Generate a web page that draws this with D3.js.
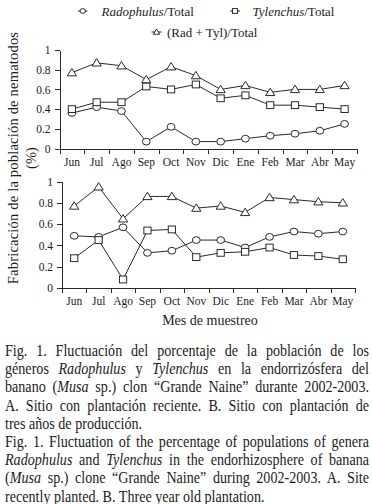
<!DOCTYPE html>
<html>
<head>
<meta charset="utf-8">
<script src="https://cdn.jsdelivr.net/npm/d3@7"></script>
<style>
  body { margin: 0; background: #fff; }
  svg { display: block; }
</style>
</head>
<body>
<svg id="fig" width="372" height="504"></svg>
<script>
// months on the x axis
const months = ['Jun', 'Jul', 'Ago', 'Sep', 'Oct', 'Nov', 'Dic', 'Ene', 'Feb', 'Mar', 'Abr', 'May'];
const yTicks = [0, 0.2, 0.4, 0.6, 0.8, 1];
const yTickLabels = ['0', '0.2', '0.4', '0.6', '0.8', '1'];

// A: recent plantation (top)
const radA = [0.36, 0.42, 0.38, 0.07, 0.22, 0.07, 0.07, 0.10, 0.13, 0.15, 0.18, 0.25];
const tylA = [0.40, 0.47, 0.47, 0.63, 0.60, 0.65, 0.51, 0.54, 0.44, 0.44, 0.42, 0.40];
const sumA = [0.77, 0.87, 0.84, 0.70, 0.83, 0.74, 0.60, 0.64, 0.57, 0.60, 0.60, 0.64];
// B: three year old plantation (bottom)
const radB = [0.49, 0.48, 0.57, 0.33, 0.35, 0.45, 0.45, 0.38, 0.48, 0.53, 0.51, 0.53];
const tylB = [0.28, 0.45, 0.08, 0.54, 0.55, 0.29, 0.33, 0.34, 0.38, 0.31, 0.30, 0.27];
const sumB = [0.77, 0.95, 0.65, 0.86, 0.86, 0.75, 0.77, 0.71, 0.85, 0.83, 0.81, 0.80];

const legendLabels = [['Radophulus', '/Total'], ['Tylenchus', '/Total'], ['', '(Rad + Tyl)/Total']];

const SERIF = '"Liberation Serif"';
const INK = '#2a2a2a';
const TXT = '#1c1c1c';
const svg = d3.select('#fig');

// marker drawers
function marker(sel, kind, s) {
  if (kind === 'circle') {
    sel.append('ellipse').attr('rx', 3.9 * s).attr('ry', 3.4 * s);
  } else if (kind === 'square') {
    sel.append('rect').attr('x', -3.6 * s).attr('y', -3.4 * s).attr('width', 7.2 * s).attr('height', 6.8 * s);
  } else {
    sel.append('path').attr('d', `M0,${-4.2 * s}L${4.6 * s},${3.2 * s}L${-4.6 * s},${3.2 * s}Z`);
  }
  sel.selectAll('ellipse,rect,path').attr('fill', '#fff').attr('stroke', INK).attr('stroke-width', 1);
}

function drawPanel(p) {
  const x = d3.scaleBand().domain(months).range([p.x0, p.x1]);
  const xb = d3.scaleLinear().domain([0, 12]).range([p.x0, p.x1]);
  const y = d3.scaleLinear().domain([0, 1]).range([p.yb, p.yt]);
  const g = svg.append('g');

  g.append('g').attr('transform', `translate(${p.x0},0)`)
    .call(d3.axisLeft(y).tickValues(yTicks).tickFormat((d, i) => yTickLabels[i]).tickSize(5).tickSizeOuter(0).tickPadding(4));
  g.append('g').attr('transform', `translate(0,${p.yb})`)
    .call(d3.axisBottom(xb).tickValues(d3.range(13)).tickFormat('').tickSize(5).tickSizeOuter(0));
  g.append('g').attr('transform', `translate(0,${p.yb})`)
    .call(d3.axisBottom(x).tickSize(0).tickPadding(9))
    .call(a => a.select('.domain').remove());
  g.selectAll('.domain, .tick line').attr('stroke', INK).attr('shape-rendering', 'crispEdges');
  g.selectAll('.tick text').attr('fill', TXT).style('font-size', '11.5px');

  const line = d3.line().x((d, i) => x(months[i]) + x.bandwidth() / 2).y(d => y(d));
  p.series.forEach(s => {
    g.append('path').datum(s.values).attr('d', line).attr('fill', 'none').attr('stroke', INK).attr('stroke-width', 1);
  });
  p.series.forEach(s => {
    g.append('g').selectAll('g').data(s.values).join('g')
      .attr('transform', (d, i) => `translate(${x(months[i]) + x.bandwidth() / 2},${y(d)})`)
      .each(function () { marker(d3.select(this), s.kind, 1); });
  });
}

drawPanel({ x0: 59.5, x1: 357, yt: 50, yb: 148.5,
  series: [{ values: radA, kind: 'circle' }, { values: tylA, kind: 'square' }, { values: sumA, kind: 'triangle' }] });
drawPanel({ x0: 62, x1: 355, yt: 181.5, yb: 288,
  series: [{ values: radB, kind: 'circle' }, { values: tylB, kind: 'square' }, { values: sumB, kind: 'triangle' }] });

// legend
const legPos = [[78, 87.5, 101.5, 11], [230, 240, 252.5, 11], [151.5, 161.5, 167, 32]];
const kinds = ['circle', 'square', 'triangle'];
legendLabels.forEach((lab, i) => {
  const [l0, l1, tx, ly] = legPos[i];
  svg.append('line').attr('x1', l0).attr('x2', l1).attr('y1', ly).attr('y2', ly).attr('stroke', INK);
  const m = svg.append('g').attr('transform', `translate(${(l0 + l1) / 2},${ly})`);
  marker(m, kinds[i], 0.7);
  const t = svg.append('text').attr('x', tx).attr('y', ly + 4.5).style('font-size', '13px');
  if (lab[0]) t.append('tspan').attr('font-style', 'italic').text(lab[0]);
  t.append('tspan').text(lab[1]);
});

// axis titles
svg.append('text').attr('transform', 'translate(18,158) rotate(-90)').attr('text-anchor', 'middle')
  .style('font-size', '14.5px').attr('letter-spacing', 0.2).text('Fabricación de la población de nematodos');
svg.append('text').attr('transform', 'translate(36,158) rotate(-90)').attr('text-anchor', 'middle')
  .style('font-size', '14.5px').text('(%)');
svg.append('text').attr('x', 210).attr('y', 325).attr('text-anchor', 'middle')
  .style('font-size', '14px').text('Mes de muestreo');

svg.selectAll('text').style('font-family', SERIF).style('fill', TXT);

// caption: [segments, justified?]; segments starting with '*' are italic
const caption = [
  [['Fig. 1. Fluctuación del porcentaje de la población de los'], true],
  [['géneros ', '*Radophulus', ' y ', '*Tylenchus', ' en la endorrizósfera del'], true],
  [['banano (', '*Musa', ' sp.) clon “Grande Naine” durante 2002-2003.'], true],
  [['A. Sitio con plantación reciente. B. Sitio con plantación de'], true],
  [['tres años de producción.'], false],
  [['Fig. 1. Fluctuation of the percentage of populations of genera'], true],
  [['*Radophulus', ' and ', '*Tylenchus', ' in the endorhizosphere of banana'], true],
  [['(', '*Musa', ' sp.) clone “Grande Naine” during 2002-2003. A. Site'], true],
  [['recently planted. B. Three year old plantation.'], false]
];
const capX = 5, capW = 364, capFont = 16.5;
const capLines = caption.map((c, i) => {
  const t = svg.append('text').attr('y', 0)
    .style('font-family', SERIF).style('font-size', capFont + 'px').style('fill', TXT);
  c[0].forEach(seg => {
    const it = seg[0] === '*';
    t.append('tspan').style('font-style', it ? 'italic' : null).text(it ? seg.slice(1) : seg);
  });
  return { t, just: c[1], str: c[0].join('').replace(/\*/g, ''), y: 356 + i * 18.2 };
});
// horizontal squeeze taken from the two ragged last lines (ref widths ~150 and ~247)
const nat5 = capLines[4].t.node().getComputedTextLength();
const nat9 = capLines[8].t.node().getComputedTextLength();
const sx = Math.min(1, (150 + 247) / (nat5 + nat9));
capLines.forEach(l => {
  l.t.attr('transform', `translate(${capX},${l.y}) scale(${sx},1)`);
  if (l.just) {
    const nat = l.t.node().getComputedTextLength();
    const spaces = (l.str.match(/ /g) || []).length;
    l.t.attr('word-spacing', (capW / sx - nat) / spaces);
  }
});
</script>
</body>
</html>
